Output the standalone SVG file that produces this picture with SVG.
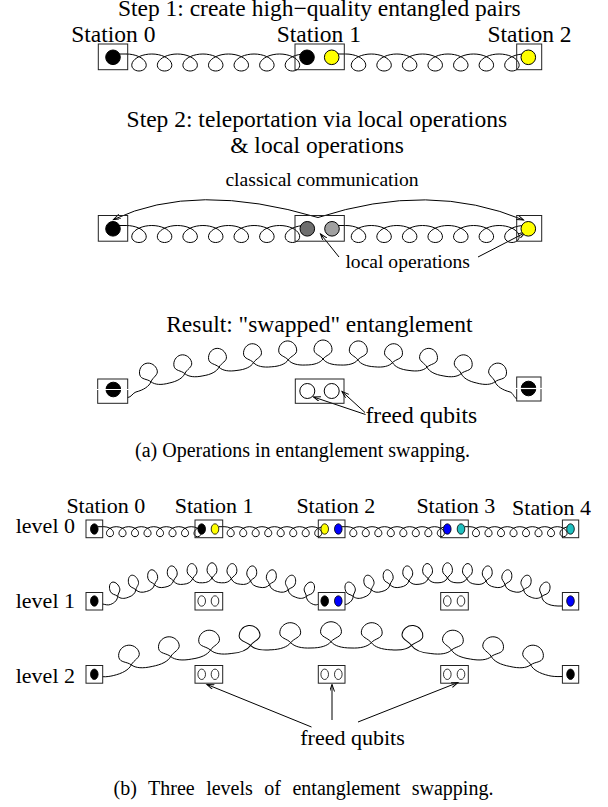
<svg xmlns="http://www.w3.org/2000/svg" width="608" height="807" viewBox="0 0 608 807">
<style>
text{font-family:"Liberation Serif","Times New Roman",serif;fill:#000}
.big{font-size:23.5px}
.mid{font-size:22px}
.sm{font-size:19.6px}
.cap{font-size:20px}
.box{fill:none;stroke:#222;stroke-width:1}
.coil{fill:none;stroke:#000;stroke-width:1;vector-effect:non-scaling-stroke}
.ln{fill:none;stroke:#000;stroke-width:1}
.q{stroke:#000;stroke-width:1}
.qs{stroke:#000;stroke-width:0.8}
.wl{stroke:#fff;stroke-width:1.2}
</style>
<defs>
<path id="sp" class="coil" d="M-12.79,-8.5 C-8.32,-8.5 -3.87,-7.58 -0.4,-6.01 C3.07,-4.44 5.54,-2.23 6.61,0 C7.67,2.23 7.34,4.44 6,6.01 C4.65,7.58 2.34,8.5 0,8.5 C-2.34,8.5 -4.65,7.58 -6,6.01 C-7.34,4.44 -7.67,2.23 -6.61,0 C-5.54,-2.23 -3.07,-4.44 0.4,-6.01 C3.87,-7.58 8.32,-8.5 12.79,-8.5"/>
<path id="bp" class="coil" d="M-17.25,6 C-9,6 -3,4 0,0 C3,-4 9,-4.5 9,-9.5 C9,-14.5 5,-19 0,-19 C-5,-19 -9,-14.5 -9,-9.5 C-9,-4.5 -3,-4 0,0 C3,4 9,6 17.25,6"/>
<g id="ch7"><use href="#sp"/><use href="#sp" x="25.57"/><use href="#sp" x="51.14"/><use href="#sp" x="76.72"/><use href="#sp" x="102.29"/><use href="#sp" x="127.86"/><use href="#sp" x="153.43"/></g>
<g id="ch8"><use href="#ch7"/><use href="#sp" x="179"/></g>
<marker id="ah" markerWidth="9" markerHeight="8" refX="7" refY="2.5" orient="auto" markerUnits="userSpaceOnUse"><path d="M0,0 L7,2.5 L0,5" fill="none" stroke="#000" stroke-width="1"/></marker>
</defs>

<g id="connectors">
<!-- step 1 -->
<path class="ln" d="M119,54 H126.5 M336,54 H345.7"/>
<use href="#ch7" transform="translate(139 62.5)"/>
<use href="#ch7" transform="translate(358.5 62.5)"/>
<!-- step 2 -->
<path class="ln" d="M119,225.5 H126.5 M336,225.5 H345.7"/>
<use href="#ch7" transform="translate(139 234)"/>
<use href="#ch7" transform="translate(358.5 234)"/>
<path class="ln" d="M318,217.5 Q195,181 113.5,219.5" marker-end="url(#ah)"/>
<path class="ln" d="M318,217.5 Q430,181 523.5,220" marker-end="url(#ah)"/>
<path class="ln" d="M339,257 L320.5,234" marker-end="url(#ah)"/>
<path class="ln" d="M478,257 L525.5,232.5" marker-end="url(#ah)"/>
<!-- result -->
<path class="ln" d="M127.7,397.5 C131,397.5 133,392.8 135.9,392 M510.1,392 C513,392.8 514.5,398.5 516.7,398.5"/>
<g transform="translate(323 1021)">
<use href="#bp" transform="rotate(-15.063) translate(0 -662)"/>
<use href="#bp" transform="rotate(-12.050) translate(0 -662)"/>
<use href="#bp" transform="rotate(-9.038) translate(0 -662)"/>
<use href="#bp" transform="rotate(-6.025) translate(0 -662)"/>
<use href="#bp" transform="rotate(-3.013) translate(0 -662)"/>
<use href="#bp" transform="translate(0 -662)"/>
<use href="#bp" transform="rotate(3.013) translate(0 -662)"/>
<use href="#bp" transform="rotate(6.025) translate(0 -662)"/>
<use href="#bp" transform="rotate(9.038) translate(0 -662)"/>
<use href="#bp" transform="rotate(12.050) translate(0 -662)"/>
<use href="#bp" transform="rotate(15.063) translate(0 -662)"/>
</g>
<path class="ln" d="M365.5,414.5 L313.5,397" marker-end="url(#ah)"/>
<path class="ln" d="M365,412.5 L342,391.5" marker-end="url(#ah)"/>
<!-- level 0 -->
<path class="ln" d="M98,526.7 H103.9 M219,526.7 H224.6 M342,526.7 H347.2 M465,526.7 H469.9"/>
<use href="#ch8" transform="translate(110 531.7) scale(0.489 0.59)"/>
<use href="#ch8" transform="translate(230.7 531.7) scale(0.489 0.59)"/>
<use href="#ch8" transform="translate(353.3 531.7) scale(0.489 0.59)"/>
<use href="#ch8" transform="translate(476 531.7) scale(0.489 0.59)"/>
<!-- level 1 -->
<path class="ln" d="M102.7,604 C105.5,604.6 108,605.5 110.7,604.4 M313.3,604.4 C316,605.5 317,604.5 318.3,604.3 M345,604.3 L346.2,604.4 M548.8,604.4 C551.5,605.5 556,606.3 562.4,606"/>
<g transform="translate(212 829)">
<use href="#bp" transform="rotate(-22.07) translate(0 -251) scale(.55 .8)"/>
<use href="#bp" transform="rotate(-17.656) translate(0 -251) scale(.55 .8)"/>
<use href="#bp" transform="rotate(-13.242) translate(0 -251) scale(.55 .8)"/>
<use href="#bp" transform="rotate(-8.828) translate(0 -251) scale(.55 .8)"/>
<use href="#bp" transform="rotate(-4.414) translate(0 -251) scale(.55 .8)"/>
<use href="#bp" transform="translate(0 -251) scale(.55 .8)"/>
<use href="#bp" transform="rotate(4.414) translate(0 -251) scale(.55 .8)"/>
<use href="#bp" transform="rotate(8.828) translate(0 -251) scale(.55 .8)"/>
<use href="#bp" transform="rotate(13.242) translate(0 -251) scale(.55 .8)"/>
<use href="#bp" transform="rotate(17.656) translate(0 -251) scale(.55 .8)"/>
<use href="#bp" transform="rotate(22.07) translate(0 -251) scale(.55 .8)"/>
</g>
<g transform="translate(447.5 829)">
<use href="#bp" transform="rotate(-22.07) translate(0 -251) scale(.55 .8)"/>
<use href="#bp" transform="rotate(-17.656) translate(0 -251) scale(.55 .8)"/>
<use href="#bp" transform="rotate(-13.242) translate(0 -251) scale(.55 .8)"/>
<use href="#bp" transform="rotate(-8.828) translate(0 -251) scale(.55 .8)"/>
<use href="#bp" transform="rotate(-4.414) translate(0 -251) scale(.55 .8)"/>
<use href="#bp" transform="translate(0 -251) scale(.55 .8)"/>
<use href="#bp" transform="rotate(4.414) translate(0 -251) scale(.55 .8)"/>
<use href="#bp" transform="rotate(8.828) translate(0 -251) scale(.55 .8)"/>
<use href="#bp" transform="rotate(13.242) translate(0 -251) scale(.55 .8)"/>
<use href="#bp" transform="rotate(17.656) translate(0 -251) scale(.55 .8)"/>
<use href="#bp" transform="rotate(22.07) translate(0 -251) scale(.55 .8)"/>
</g>
<!-- level 2 -->
<path class="ln" d="M102.7,676.7 C106,677 110.4,676.3 113.3,675.6 M548.7,675.6 C551.5,676.3 556,676.8 562.4,676.5"/>
<g transform="translate(331 1513.7)">
<use href="#bp" transform="rotate(-13.239) translate(0 -872) scale(1.16 1.05)"/>
<use href="#bp" transform="rotate(-10.591) translate(0 -872) scale(1.16 1.05)"/>
<use href="#bp" transform="rotate(-7.943) translate(0 -872) scale(1.16 1.05)"/>
<use href="#bp" transform="rotate(-5.296) translate(0 -872) scale(1.16 1.05)"/>
<use href="#bp" transform="rotate(-2.648) translate(0 -872) scale(1.16 1.05)"/>
<use href="#bp" transform="translate(0 -872) scale(1.16 1.05)"/>
<use href="#bp" transform="rotate(2.648) translate(0 -872) scale(1.16 1.05)"/>
<use href="#bp" transform="rotate(5.296) translate(0 -872) scale(1.16 1.05)"/>
<use href="#bp" transform="rotate(7.943) translate(0 -872) scale(1.16 1.05)"/>
<use href="#bp" transform="rotate(10.591) translate(0 -872) scale(1.16 1.05)"/>
<use href="#bp" transform="rotate(13.239) translate(0 -872) scale(1.16 1.05)"/>
</g>
<path class="ln" d="M311.5,727 L207,684.5" marker-end="url(#ah)"/>
<path class="ln" d="M332,720 L332,684.5" marker-end="url(#ah)"/>
<path class="ln" d="M358,722 L458,682.5" marker-end="url(#ah)"/>
</g>

<g id="labels-a">
<text class="big" x="319.3" y="15.5" text-anchor="middle">Step 1: create high−quality entangled pairs</text>
<text class="big" x="316.8" y="127.3" text-anchor="middle">Step 2: teleportation via local operations</text>
<text class="big" x="317" y="153.3" text-anchor="middle">&amp; local operations</text>
<text class="sm" x="322" y="186" text-anchor="middle">classical communication</text>
<text class="sm" x="407.7" y="268" text-anchor="middle">local operations</text>
<text class="big" x="319.3" y="332" text-anchor="middle">Result: "swapped" entanglement</text>
<text class="big" x="421.3" y="423" text-anchor="middle">freed qubits</text>
<text class="cap" x="302.5" y="457" text-anchor="middle">(a) Operations in entanglement swapping.</text>
</g>

<g id="s1-station0"><text class="big" x="113.3" y="42.3" text-anchor="middle">Station 0</text><rect class="box" x="98.3" y="44" width="29.4" height="25.7"/><circle class="q" cx="113" cy="57.3" r="7.3" fill="#000"/></g>
<g id="s1-station1"><text class="big" x="318.8" y="42.3" text-anchor="middle">Station 1</text><rect class="box" x="295" y="44" width="49.3" height="25.7"/><circle class="q" cx="307" cy="57.3" r="7.3" fill="#000"/><circle class="q" cx="331.7" cy="57.3" r="7.3" fill="#ffff00"/></g>
<g id="s1-station2"><text class="big" x="529.5" y="42.3" text-anchor="middle">Station 2</text><rect class="box" x="516.7" y="44" width="25" height="25.7"/><circle class="q" cx="528.3" cy="57.3" r="7.3" fill="#ffff00"/></g>

<g id="s2-station0"><rect class="box" x="98.3" y="215.5" width="29.4" height="25.7"/><circle class="q" cx="113" cy="228.8" r="7.3" fill="#000"/></g>
<g id="s2-station1"><rect class="box" x="295" y="215.5" width="49.3" height="25.7"/><circle class="q" cx="307.3" cy="228.8" r="7.3" fill="#6e6e6e"/><circle class="q" cx="332" cy="228.8" r="7.3" fill="#a0a0a0"/></g>
<g id="s2-station2"><rect class="box" x="516.7" y="215.5" width="25" height="25.7"/><circle class="q" cx="528.3" cy="228.8" r="7.3" fill="#ffff00"/></g>

<g id="r-station0"><rect class="box" x="97.7" y="379" width="30" height="24.3"/><circle class="q" cx="113.3" cy="389.5" r="7.3" fill="#000"/><line class="wl" x1="96.5" y1="389.5" x2="129" y2="389.5"/></g>
<g id="r-station1"><rect class="box" x="295.3" y="379" width="48.7" height="24.3"/><circle class="q" cx="307.3" cy="391" r="7.5" fill="none"/><circle class="q" cx="331.7" cy="391" r="7.5" fill="none"/></g>
<g id="r-station2"><rect class="box" x="516.7" y="377" width="24.3" height="24"/><circle class="q" cx="528.5" cy="388.5" r="7.3" fill="#000"/><line class="wl" x1="515.5" y1="388.5" x2="542.2" y2="388.5"/></g>

<g id="labels-b">
<text class="mid" x="105.8" y="512.7" text-anchor="middle">Station 0</text>
<text class="mid" x="214.2" y="512.7" text-anchor="middle">Station 1</text>
<text class="mid" x="335.8" y="512.7" text-anchor="middle">Station 2</text>
<text class="mid" x="455.8" y="512.7" text-anchor="middle">Station 3</text>
<text class="mid" x="551.5" y="515" text-anchor="middle">Station 4</text>
<text class="mid" x="75" y="533.3" text-anchor="end">level 0</text>
<text class="mid" x="75" y="608.3" text-anchor="end">level 1</text>
<text class="mid" x="75" y="683.3" text-anchor="end">level 2</text>
<text class="mid" x="352.5" y="744.5" text-anchor="middle">freed qubits</text>
<text class="cap" x="303.5" y="795" text-anchor="middle" word-spacing="6.5">(b) Three levels of entanglement swapping.</text>
</g>

<g id="l0-station0"><rect class="box" x="86" y="520" width="16.7" height="17.7"/><ellipse class="qs" cx="94.3" cy="529" rx="3.8" ry="5.2" fill="#000"/></g>
<g id="l0-station1"><rect class="box" x="195" y="520" width="27.7" height="17.7"/><ellipse class="qs" cx="201.7" cy="529" rx="3.8" ry="5.2" fill="#000"/><ellipse class="qs" cx="215" cy="529" rx="3.8" ry="5.2" fill="#ffff00"/></g>
<g id="l0-station2"><rect class="box" x="318.3" y="520" width="26.7" height="17.7"/><ellipse class="qs" cx="324.7" cy="529" rx="3.8" ry="5.2" fill="#ffff00"/><ellipse class="qs" cx="338.3" cy="529" rx="3.8" ry="5.2" fill="#0000ff"/></g>
<g id="l0-station3"><rect class="box" x="440.7" y="520" width="27.6" height="17.7"/><ellipse class="qs" cx="447.3" cy="529" rx="3.8" ry="5.2" fill="#0000ff"/><ellipse class="qs" cx="461" cy="529" rx="3.8" ry="5.2" fill="#1fc0c0"/></g>
<g id="l0-station4"><rect class="box" x="562.4" y="520" width="16.3" height="17.7"/><ellipse class="qs" cx="570.5" cy="529" rx="3.8" ry="5.2" fill="#1fc0c0"/></g>

<g id="l1-station0"><rect class="box" x="86" y="592.5" width="16.7" height="17.5"/><ellipse class="qs" cx="94.3" cy="601" rx="3.8" ry="5.2" fill="#000"/></g>
<g id="l1-station1"><rect class="box" x="195" y="592.5" width="27.7" height="17.5"/><ellipse class="qs" cx="201.7" cy="601" rx="3.8" ry="5.2" fill="none"/><ellipse class="qs" cx="215" cy="601" rx="3.8" ry="5.2" fill="none"/></g>
<g id="l1-station2"><rect class="box" x="318.3" y="592.5" width="26.7" height="17.5"/><ellipse class="qs" cx="324.7" cy="601" rx="3.8" ry="5.2" fill="#000"/><ellipse class="qs" cx="338.3" cy="601" rx="3.8" ry="5.2" fill="#0000ff"/></g>
<g id="l1-station3"><rect class="box" x="440.7" y="592.5" width="27.6" height="17.5"/><ellipse class="qs" cx="447.3" cy="601" rx="3.8" ry="5.2" fill="none"/><ellipse class="qs" cx="461" cy="601" rx="3.8" ry="5.2" fill="none"/></g>
<g id="l1-station4"><rect class="box" x="562.4" y="592.5" width="16.3" height="17.5"/><ellipse class="qs" cx="570.5" cy="601" rx="3.8" ry="5.2" fill="#0000ff"/></g>

<g id="l2-station0"><rect class="box" x="86" y="665.5" width="16.7" height="17.7"/><ellipse class="qs" cx="94.3" cy="674.3" rx="3.8" ry="5.2" fill="#000"/></g>
<g id="l2-station1"><rect class="box" x="195" y="665.5" width="27.7" height="17.7"/><ellipse class="qs" cx="201.7" cy="674.3" rx="3.8" ry="5.2" fill="none"/><ellipse class="qs" cx="215" cy="674.3" rx="3.8" ry="5.2" fill="none"/></g>
<g id="l2-station2"><rect class="box" x="318.3" y="665.5" width="26.7" height="17.7"/><ellipse class="qs" cx="324.7" cy="674.3" rx="3.8" ry="5.2" fill="none"/><ellipse class="qs" cx="338.3" cy="674.3" rx="3.8" ry="5.2" fill="none"/></g>
<g id="l2-station3"><rect class="box" x="440.7" y="665.5" width="27.6" height="17.7"/><ellipse class="qs" cx="447.3" cy="674.3" rx="3.8" ry="5.2" fill="none"/><ellipse class="qs" cx="461" cy="674.3" rx="3.8" ry="5.2" fill="none"/></g>
<g id="l2-station4"><rect class="box" x="562.4" y="665.5" width="16.3" height="17.7"/><ellipse class="qs" cx="570.5" cy="674.3" rx="3.8" ry="5.2" fill="#000"/></g>
</svg>
